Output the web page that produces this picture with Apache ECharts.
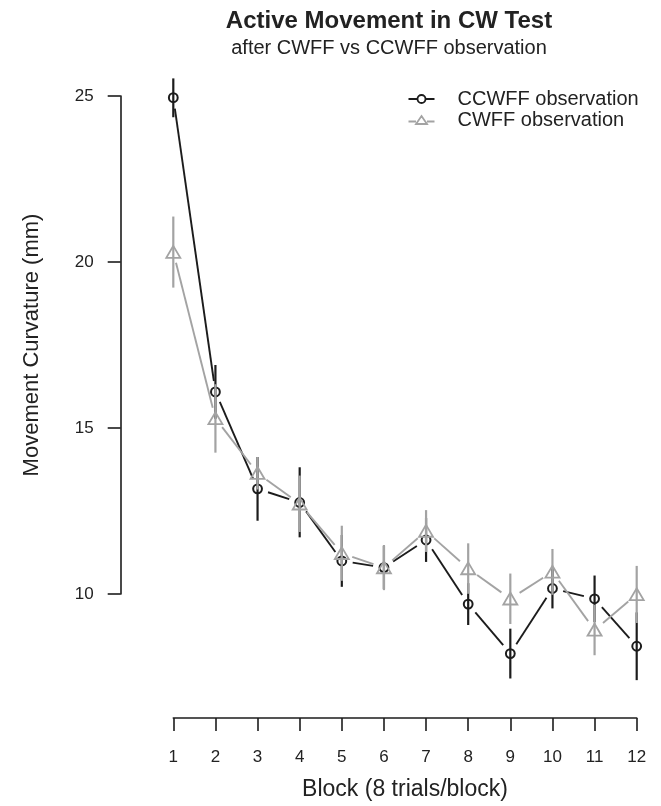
<!DOCTYPE html>
<html>
<head>
<meta charset="utf-8">
<script src="https://cdn.jsdelivr.net/npm/echarts@6/dist/echarts.min.js"></script>
<style>
  html, body { margin: 0; padding: 0; background: #fff; }
  #chart { width: 661px; height: 806px; }
</style>
</head>
<body>
<div id="chart"></div>
<script>
// block number on x
var blocks = [1, 2, 3, 4, 5, 6, 7, 8, 9, 10, 11, 12]
// after CCWFF observation (black circles): mean and error bar ends
var ccwMean = [24.95, 16.09, 13.17, 12.76, 11.0, 10.8, 11.63, 9.70, 8.21, 10.17, 9.86, 8.43]
var ccwLow = [24.36, 15.28, 12.21, 11.71, 10.22, 10.15, 10.97, 9.07, 7.46, 9.57, 9.16, 7.41]
var ccwHigh = [25.53, 16.90, 14.13, 13.82, 11.78, 11.45, 12.29, 10.33, 8.96, 10.77, 10.56, 9.45]
// after CWFF observation (grey triangles)
var cwMean = [20.30, 15.29, 13.64, 12.72, 11.23, 10.80, 11.90, 10.77, 9.86, 10.67, 8.92, 9.99]
var cwLow = [19.23, 14.26, 13.15, 11.87, 10.40, 10.12, 11.27, 10.01, 9.10, 9.98, 8.16, 9.13]
var cwHigh = [21.37, 16.32, 14.13, 13.57, 12.06, 11.48, 12.53, 11.53, 10.62, 11.36, 9.68, 10.85]

var black = '#1c1c1c'
var grey = '#a3a3a3'
var font = 'Liberation Sans, Arial, Helvetica, sans-serif'

function rows(mean, low, high) {
  return blocks.map(function(b, i) {
    var last = i === blocks.length - 1
    return [b, mean[i], low[i], high[i], last ? b : blocks[i + 1], last ? mean[i] : mean[i + 1], last ? 0 : 1]
  })
}

// R style type="b": segments stop short of the symbols, bars pass through them
function makeRender(color, shape) {
  return function(params, api) {
    var p = api.coord([api.value(0), api.value(1)])
    var lo = api.coord([api.value(0), api.value(2)])
    var hi = api.coord([api.value(0), api.value(3)])
    var children = []
    if (api.value(6)) {
      var q = api.coord([api.value(4), api.value(5)])
      var dx = q[0] - p[0]
      var dy = q[1] - p[1]
      var d = Math.sqrt(dx * dx + dy * dy)
      var g = 11
      if (d > 2 * g) {
        children.push({
          type: 'line',
          shape: { x1: p[0] + dx * g / d, y1: p[1] + dy * g / d, x2: q[0] - dx * g / d, y2: q[1] - dy * g / d },
          style: { stroke: color, lineWidth: 1.9 }
        })
      }
    }
    children.push({
      type: 'line',
      shape: { x1: p[0], y1: lo[1], x2: p[0], y2: hi[1] },
      style: { stroke: color, lineWidth: 2.2 }
    })
    if (shape === 'circle') {
      children.push({
        type: 'circle',
        shape: { cx: p[0], cy: p[1], r: 4.4 },
        style: { fill: null, stroke: color, lineWidth: 2 }
      })
    } else {
      children.push({
        type: 'polygon',
        shape: { points: [[p[0], p[1] - 6.2], [p[0] + 7, p[1] + 5.7], [p[0] - 7, p[1] + 5.7]] },
        style: { fill: null, stroke: color, lineWidth: 1.8 }
      })
    }
    return { type: 'group', children: children }
  }
}

var chart = echarts.init(document.getElementById('chart'), null, { renderer: 'canvas' })
chart.setOption({
  backgroundColor: '#fff',
  animation: false,
  title: {
    left: 384,
    top: 4,
    textAlign: 'center',
    text: 'Active Movement in CW Test',
    subtext: 'after CWFF vs CCWFF observation',
    itemGap: 5,
    textStyle: { fontFamily: font, fontSize: 24, fontWeight: 'bold', color: '#222' },
    subtextStyle: { fontFamily: font, fontSize: 20, color: '#222' }
  },
  legend: {
    orient: 'vertical',
    left: 401,
    top: 84,
    itemWidth: 26,
    itemHeight: 8,
    itemGap: 1,
    textStyle: { fontFamily: font, fontSize: 20, color: '#222', padding: [0, 0, 0, 18] },
    data: [
      {
        name: 'CCWFF observation',
        icon: 'path://M0 4 L9 4 M17 4 L26 4 M17 4 A4 4 0 1 1 9 4 A4 4 0 1 1 17 4 Z',
        itemStyle: { color: 'none', borderColor: black, borderWidth: 1.8 }
      },
      {
        name: 'CWFF observation',
        icon: 'path://M0 5.5 L7.5 5.5 M18.5 5.5 L26 5.5 M13 0 L18.5 8 L7.5 8 Z',
        itemStyle: { color: 'none', borderColor: grey, borderWidth: 1.8 }
      }
    ]
  },
  grid: [
    { left: 173.3, right: 24.3, top: 96, bottom: 88 },
    { left: 120.7, top: 96, height: 498, width: 1 }
  ],
  xAxis: [
    {
      gridIndex: 0,
      type: 'value',
      min: 1,
      max: 12,
      interval: 1,
      name: 'Block (8 trials/block)',
      nameLocation: 'middle',
      nameGap: 60,
      nameTextStyle: { fontFamily: font, fontSize: 23, color: '#222' },
      axisLine: { show: true, lineStyle: { color: black, width: 1.6 } },
      axisTick: { show: true, length: 13, lineStyle: { color: black, width: 1.6 } },
      axisLabel: { fontFamily: font, fontSize: 17, color: '#222', margin: 31 },
      splitLine: { show: false }
    },
    { gridIndex: 1, type: 'value', show: false, min: 0, max: 1 }
  ],
  yAxis: [
    { gridIndex: 0, type: 'value', show: false, min: 6.27, max: 25 },
    {
      gridIndex: 1,
      type: 'value',
      min: 10,
      max: 25,
      interval: 5,
      name: 'Movement Curvature (mm)',
      nameLocation: 'middle',
      nameGap: 78,
      nameTextStyle: { fontFamily: font, fontSize: 22, color: '#222' },
      axisLine: { show: true, lineStyle: { color: black, width: 1.6 } },
      axisTick: { show: true, length: 13, lineStyle: { color: black, width: 1.6 } },
      axisLabel: { fontFamily: font, fontSize: 17, color: '#222', margin: 27 },
      splitLine: { show: false }
    }
  ],
  series: [
    {
      name: 'CCWFF observation',
      type: 'custom',
      xAxisIndex: 0,
      yAxisIndex: 0,
      clip: false,
      itemStyle: { color: black },
      renderItem: makeRender(black, 'circle'),
      data: rows(ccwMean, ccwLow, ccwHigh)
    },
    {
      name: 'CWFF observation',
      type: 'custom',
      xAxisIndex: 0,
      yAxisIndex: 0,
      clip: false,
      itemStyle: { color: grey },
      renderItem: makeRender(grey, 'triangle'),
      data: rows(cwMean, cwLow, cwHigh)
    }
  ]
})
</script>
</body>
</html>
